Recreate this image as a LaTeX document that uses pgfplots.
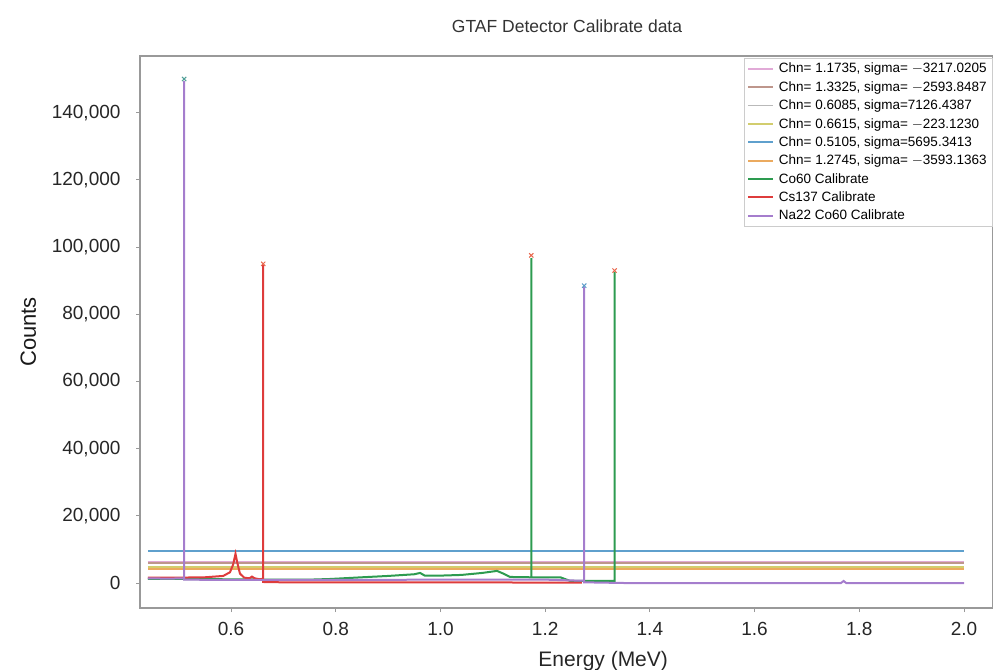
\documentclass[border=0pt]{standalone}
\usepackage{pgfplots}
\pgfplotsset{compat=1.18}
\usepackage{fontspec}
\setmainfont{Liberation Sans}
\definecolor{tblue}{RGB}{31,119,180}
\definecolor{torange}{RGB}{255,127,14}
\definecolor{tgreen}{RGB}{44,160,44}
\definecolor{tred}{RGB}{214,39,40}
\definecolor{hblue}{RGB}{95,160,205}
\definecolor{hpink}{RGB}{225,170,215}
\definecolor{hbrown}{RGB}{190,150,140}
\definecolor{hgray}{RGB}{185,185,185}
\definecolor{holive}{RGB}{210,205,110}
\definecolor{horange}{RGB}{235,170,95}
\definecolor{sgreen}{RGB}{45,155,80}
\definecolor{sred}{RGB}{222,60,60}
\definecolor{spurple}{RGB}{165,125,205}
\begin{document}
\begin{tikzpicture}
\begin{axis}[
  at={(140bp,62bp)}, anchor=south west,
  scale only axis, width=853bp, height=552bp,
  xmin=0.4261, xmax=2.0554, ymin=-7440, ymax=156845,
  axis line style={draw=gray!80, line width=1.2bp},
  xtick={0.6,0.8,...,2.0}, ytick={0,20000,...,140000},
  xtick pos=lower, ytick pos=left,
  tick align=outside, major tick length=4bp,
  tick style={gray!80, line width=0.8bp},
  scaled y ticks=false,
  /pgf/number format/assume math mode=true,
  xticklabel style={/pgf/number format/.cd, fixed, fixed zerofill, precision=1, /tikz/.cd, yshift=-7bp},
  yticklabel style={/pgf/number format/.cd, fixed, 1000 sep={,}, /tikz/.cd, xshift=-12bp},
  ticklabel style={font=\fontsize{19bp}{22bp}\selectfont, text=black!85},
  xlabel={Energy (MeV)},
  ylabel={Counts},
  xlabel style={at={(axis description cs:0.543,-0.097)}, anchor=center, font=\fontsize{21bp}{24bp}\selectfont, text=black!85},
  ylabel style={at={(axis description cs:-0.131,0.5)}, anchor=center, font=\fontsize{22bp}{25bp}\selectfont, text=black!90},
  title={GTAF Detector Calibrate data},
  title style={at={(axis description cs:0.5006,1.043)}, anchor=center, font=\fontsize{17.5bp}{20bp}\selectfont, text=black!80},
  legend style={at={(axis description cs:0.708,0.9964)}, anchor=north west,
    font=\fontsize{13.5bp}{16bp}\selectfont, draw=gray!40, fill=white,
    inner sep=3bp, row sep=3.1bp, cells={anchor=west},
    /tikz/every odd column/.append style={column sep=3bp}},
  legend image code/.code={\draw[#1, line width=1.8bp] (0bp,0bp) -- (25bp,0bp);},
  legend cell align=left,
]
% horizontal fit lines
\addplot[hpink, line width=2bp] coordinates {(0.441,6300) (2.0,6300)};
\addlegendentry{Chn= 1.1735, sigma= $-$3217.0205}
\addplot[hbrown, line width=2bp] coordinates {(0.441,6000) (2.0,6000)};
\addlegendentry{Chn= 1.3325, sigma= $-$2593.8487}
\addplot[hgray, line width=2bp] coordinates {(0.441,4900) (2.0,4900)};
\addlegendentry{Chn= 0.6085, sigma=7126.4387}
\addplot[holive, line width=2bp] coordinates {(0.441,4700) (2.0,4700)};
\addlegendentry{Chn= 0.6615, sigma= $-$223.1230}
\addplot[hblue, line width=2bp] coordinates {(0.441,9400) (2.0,9400)};
\addlegendentry{Chn= 0.5105, sigma=5695.3413}
\addplot[horange, line width=2bp] coordinates {(0.441,4300) (2.0,4300)};
\addlegendentry{Chn= 1.2745, sigma= $-$3593.1363}
% Co60
\addplot[sgreen, line width=2bp] coordinates {
(0.441,1200) (0.5,1200) (0.6,1100) (0.7,1000) (0.75,1000) (0.79,1200) (0.85,1700)
(0.9,2100) (0.95,2600) (0.961,3000) (0.97,2200) (1.0,2200) (1.04,2400) (1.08,3000)
(1.108,3600) (1.12,2800) (1.133,1800) (1.1735,1700) (1.1735,96700)
(1.1735,1700) (1.229,1700) (1.248,600) (1.3325,600) (1.3325,92600) (1.3325,500)};
\addlegendentry{Co60 Calibrate}
% Cs137
\addplot[sred, line width=2bp] coordinates {
(0.441,1600) (0.5,1600) (0.55,1700) (0.585,2100) (0.598,3200) (0.604,5500) (0.6085,8700)
(0.612,6000) (0.617,2800) (0.625,1600) (0.635,1400) (0.64,1900) (0.645,1400)
(0.655,1100) (0.6615,1300) (0.6615,94600) (0.6615,300)
(0.7,200) (1.0,200) (1.27,100)};
\addlegendentry{Cs137 Calibrate}
% Na22 Co60
\addplot[spurple, line width=2bp] coordinates {
(0.441,1400) (0.48,1300) (0.5105,1400) (0.5105,149400) (0.5105,1000)
(0.6,900) (0.8,900) (1.0,1000) (1.2,1000) (1.265,700) (1.2745,700)
(1.2745,88100) (1.2745,200) (1.35,0) (1.765,0) (1.77,600) (1.775,0) (2.0,0)};
\addlegendentry{Na22 Co60 Calibrate}
% peak markers
\addplot[only marks, mark=x, mark size=3bp, mark options={line width=1bp, draw=tblue!60!tgreen!80}, forget plot]
coordinates {(0.5105,150000)};
\addplot[only marks, mark=x, mark size=3bp, mark options={line width=1bp, draw=tred!70!torange!80}, forget plot]
coordinates {(0.6615,95000) (1.1735,97500) (1.3325,93000)};
\addplot[only marks, mark=x, mark size=3bp, mark options={line width=1bp, draw=tblue!75}, forget plot]
coordinates {(1.2745,88500)};
\end{axis}
\pgfresetboundingbox
\path[use as bounding box] (0bp,0bp) rectangle (993bp,670bp);
\end{tikzpicture}
\end{document}
